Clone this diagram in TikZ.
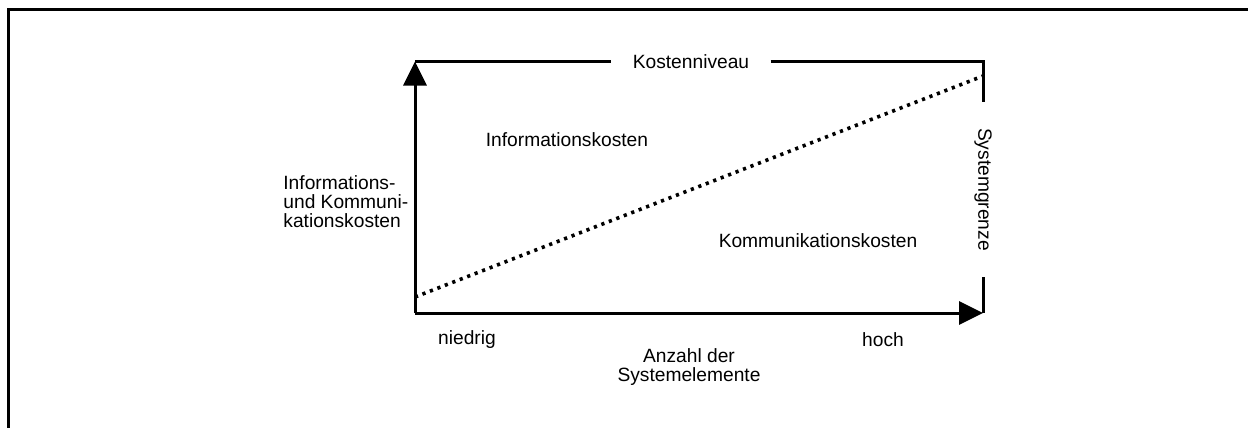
\documentclass[tikz,border=0pt]{standalone}
\usepackage{fontspec}
\setmainfont{Liberation Sans}
\usetikzlibrary{arrows.meta}
\begin{document}
\begin{tikzpicture}[x=0.5pt,y=-0.5pt,
  font=\fontsize{9.6}{9.5}\selectfont,
  axis/.style={line width=1.5pt},
  frameline/.style={line width=1.5pt},
  axisarrow/.style={axis,-{Triangle[length=12pt,width=11.5pt]}},
  curve/.style={line width=1.8pt,dash pattern=on 1.6pt off 2.4pt},
  lbl/.style={inner sep=0pt}]
\useasboundingbox (0,0) rectangle (1248,428);
% outer frame: left and top edge only
\draw[frameline] (8.5,428) -- (8.5,9.5) -- (1248,9.5);

% key points of the diagram
\coordinate (O)  at (415,313);
\coordinate (T)  at (415,61.5);
\coordinate (TR) at (983,61.5);
\coordinate (BR) at (983,313);

% labels that interrupt the boundary
\node[lbl,inner xsep=10.5pt] (kosten) at (691,61.5) {Kostenniveau};
\node[lbl,inner xsep=13pt,rotate=-90] (sys) at (983,189.5) {Systemgrenze};

% boundary lines
\draw[axis] (T) -- (kosten.west);
\draw[axis] (kosten.east) -- (TR) -- (sys.west);
\draw[axis] (sys.east) -- (BR);

% axes
\draw[axisarrow] (O) -- (T);
\draw[axisarrow] (O) -- (BR);

% dotted cost boundary
\coordinate (c0) at (415,297);
\coordinate (c1) at (983,76);
\draw[curve] (c0) -- (c1);

% area labels
\node[lbl] (info) at (567,140) {Informationskosten};
\node[lbl] (komm) at (818,241) {Kommunikationskosten};
\node[lbl,anchor=west,align=left] (yl) at (283,202) {Informations-\\und Kommuni-\\kationskosten};

% x axis labels
\node[lbl] (lo) at (467,340) {niedrig};
\node[lbl] (hi) at (883,340) {hoch};
\node[lbl,align=center] (xl) at (689,367.5) {Anzahl der\\Systemelemente};
\end{tikzpicture}
\end{document}
